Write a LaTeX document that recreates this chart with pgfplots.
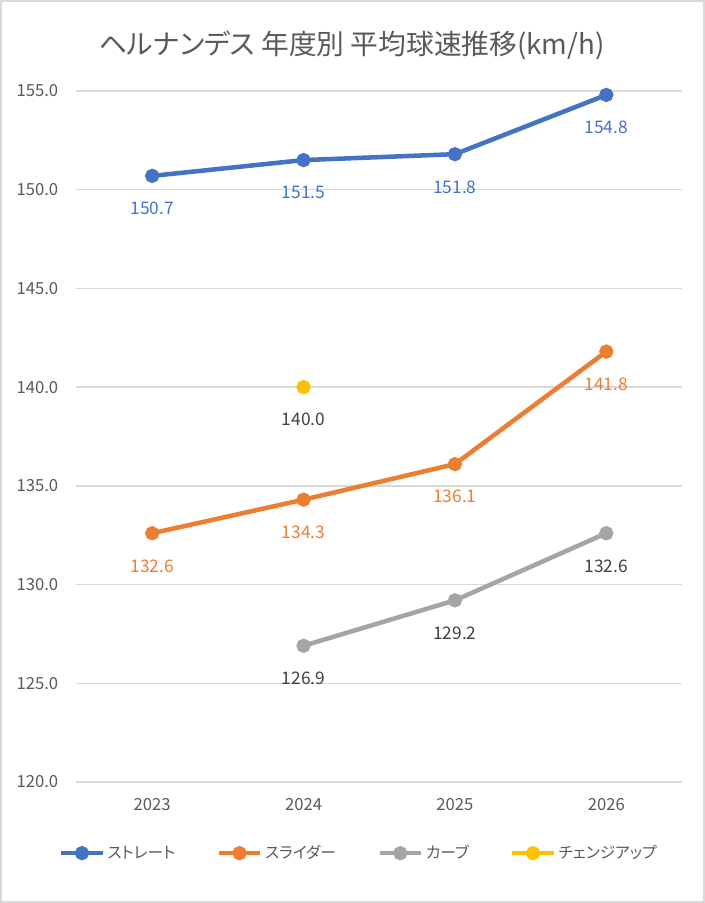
\documentclass[border=0pt]{standalone}
\usepackage{pgfplots}
\pgfplotsset{compat=1.18}
\usepackage{fontspec}
\setmainfont{Noto Sans CJK JP}
\newfontfamily\jp[RawFeature=+palt]{Noto Sans CJK JP}
\definecolor{cblue}{HTML}{4472C4}
\definecolor{corange}{HTML}{ED7D31}
\definecolor{cgray}{HTML}{A5A5A5}
\definecolor{cyellow}{HTML}{FFC000}
\definecolor{grid}{HTML}{D9D9D9}
\definecolor{tick}{HTML}{595959}
\definecolor{dlab}{HTML}{404040}
\begin{document}
\begin{tikzpicture}
\useasboundingbox (-57.375pt,-90.75pt) rectangle (471.375pt,586.5pt);
\draw[color=grid, line width=1.5pt] (-56.625pt,-90pt) rectangle (470.625pt,585.75pt);
\node[font=\jp\fontsize{20.8}{24}\selectfont, text=tick] at (206.6pt,552.75pt) {ヘルナンデス 年度別 平均球速推移(km/h)};
\begin{axis}[
  scale only axis, width=454.1pt, height=518.25pt,
  xmin=-0.5, xmax=3.5, ymin=120, ymax=155,
  xtick={0,1,2,3}, xticklabels={2023,2024,2025,2026},
  ytick={120,125,...,155},
  axis line style={draw=none},
  major tick length=0pt,
  ymajorgrids, grid style={color=grid, line width=1pt},
  /pgf/number format/assume math mode=true,
  yticklabel={\pgfmathprintnumber[fixed,fixed zerofill,precision=1]{\tick}},
  yticklabel style={font=\fontsize{12.5}{14}\selectfont, text=tick, inner sep=0pt, anchor=east, xshift=-13.5pt},
  xticklabel style={font=\fontsize{12.5}{14}\selectfont, text=tick, inner sep=0pt, anchor=north, yshift=-12pt},
  every axis plot/.append style={line width=3.4pt, mark=*, mark size=3.6pt, mark options={solid}},
  nodes near coords={\pgfmathprintnumber[fixed,fixed zerofill,precision=1]{\pgfplotspointmeta}},
  every node near coord/.append style={font=\fontsize{13}{15}\selectfont, anchor=center, yshift=-24.5pt},
  legend columns=4,
  legend style={at={(0.467,-0.103)}, anchor=center, draw=none, fill=none,
    font=\jp\fontsize{11.8}{14}\selectfont, text=tick,
    /tikz/every even column/.append style={column sep=29pt}},
  legend cell align=left,
  legend image code/.code={\draw[mark repeat=2,mark phase=2,#1] plot coordinates {(0pt,0pt) (15.5pt,0pt) (31pt,0pt)};},
  clip=false,
]
\addplot[color=cblue, every node near coord/.append style={text=cblue}] coordinates {(0,150.7) (1,151.5) (2,151.8) (3,154.8)};
\addlegendentry{ストレート}
\addplot[color=corange, every node near coord/.append style={text=corange}] coordinates {(0,132.6) (1,134.3) (2,136.1) (3,141.8)};
\addlegendentry{スライダー}
\addplot[color=cgray, every node near coord/.append style={text=dlab}] coordinates {(1,126.9) (2,129.2) (3,132.6)};
\addlegendentry{カーブ}
\addplot[color=cyellow, every node near coord/.append style={text=dlab}] coordinates {(1,140.0)};
\addlegendentry{チェンジアップ}
\end{axis}
\end{tikzpicture}
\end{document}
